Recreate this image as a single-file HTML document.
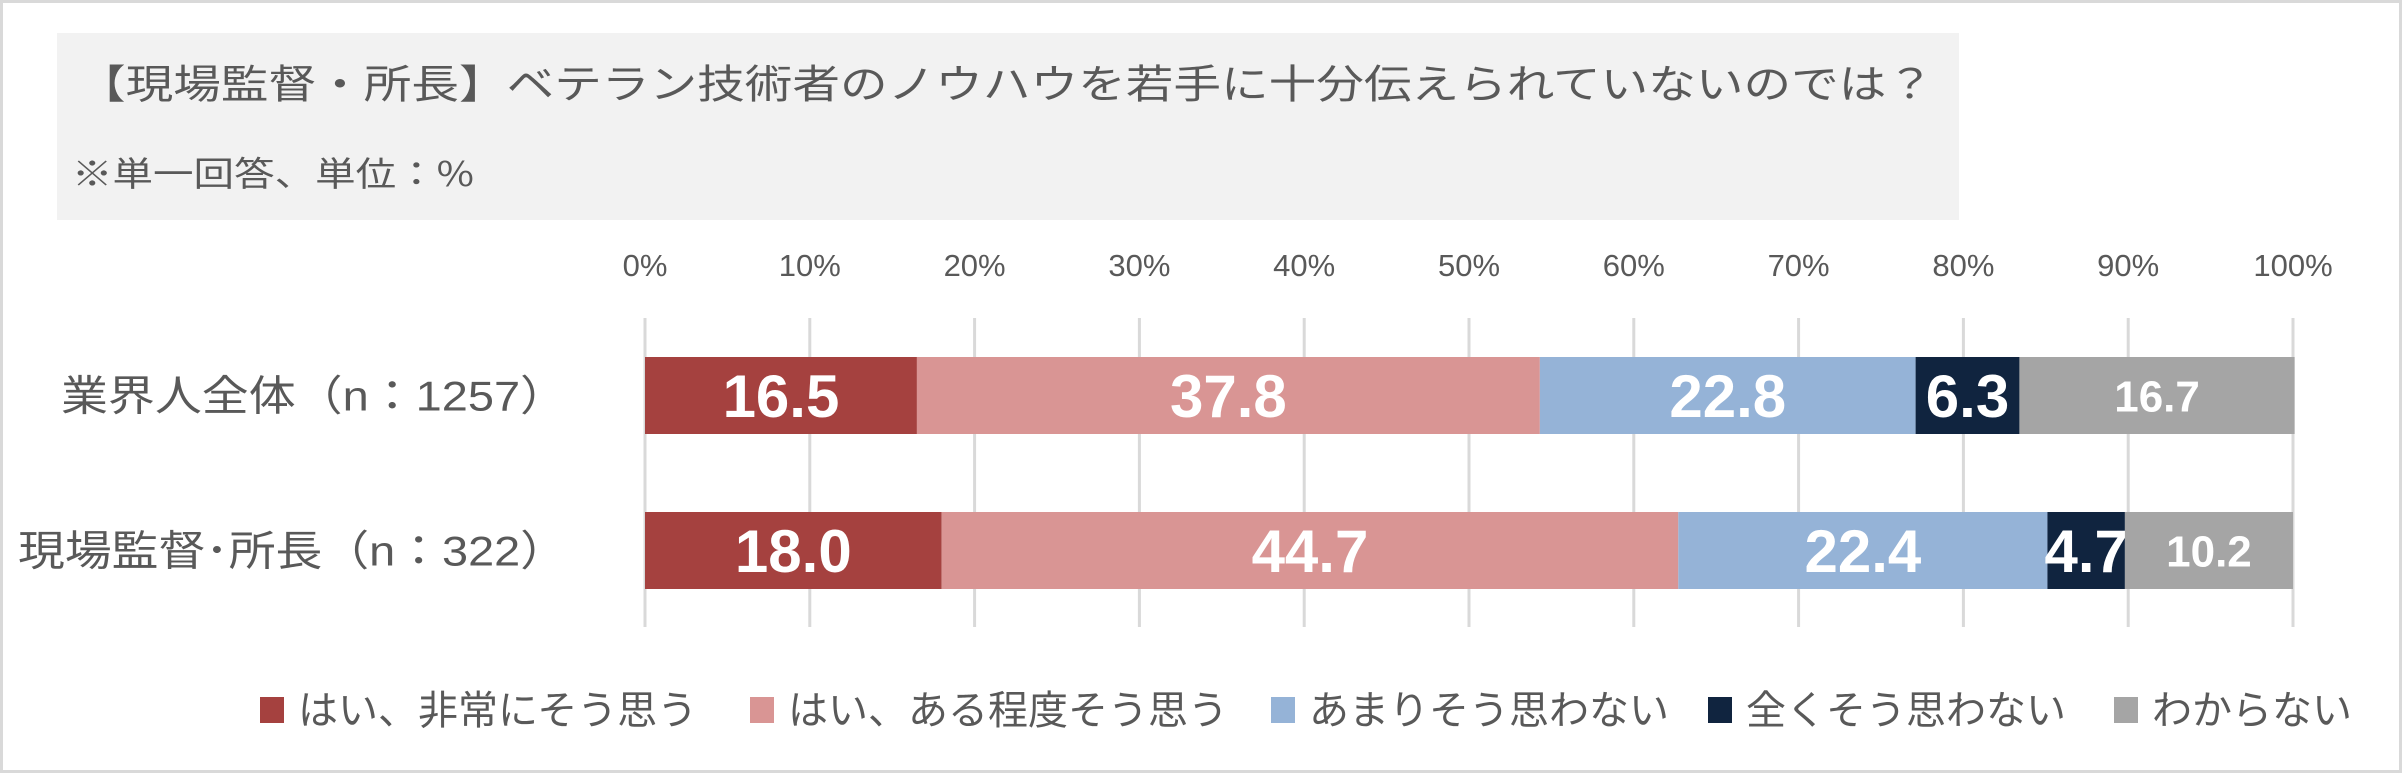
<!DOCTYPE html>
<html><head><meta charset="utf-8"><style>
html,body{margin:0;padding:0;background:#fff;}
svg{display:block;font-family:"Liberation Sans","Noto Sans CJK JP",sans-serif;}
</style></head><body>
<svg id="chart" width="2402" height="773" viewBox="0 0 2402 773">
<rect x="1.5" y="1.5" width="2399" height="770" fill="#fff" stroke="#d9d9d9" stroke-width="3"/>
<rect x="57" y="33" width="1902" height="187" fill="#f2f2f2"/>
<text x="78" y="98" font-size="40" fill="#595959" textLength="1856" lengthAdjust="spacingAndGlyphs" font-family="Noto Sans CJK JP, sans-serif">【現場監督・所長】ベテラン技術者のノウハウを若手に十分伝えられていないのでは？</text>
<text x="72" y="186" font-size="34" fill="#595959" textLength="402" lengthAdjust="spacingAndGlyphs" font-family="Noto Sans CJK JP, sans-serif">※単一回答、単位：%</text>
<g id="grid"></g><g id="bars"></g><g id="legend"></g>
</svg>
<script>
const categories = ["業界人全体（n：1257）", "現場監督･所長（n：322）"];
const seriesNames = ["はい、非常にそう思う", "はい、ある程度そう思う", "あまりそう思わない", "全くそう思わない", "わからない"];
const s1 = [16.5, 18.0];
const s2 = [37.8, 44.7];
const s3 = [22.8, 22.4];
const s4 = [6.3, 4.7];
const s5 = [16.7, 10.2];
const tickLabels = ["0%","10%","20%","30%","40%","50%","60%","70%","80%","90%","100%"];
const colors = ["#A5413F","#D99594","#95B3D7","#10243F","#A5A5A5"];
const series = [s1,s2,s3,s4,s5];
const NS="http://www.w3.org/2000/svg";
const x0=645, x1=2293, gTop=318, gBot=627;
const xs = v => x0 + (x1-x0)*v/100;
const barY=[357,512], barH=77;
const catWidths=[506,549];
const legendWidths=[390,430,380,310,190];
function mk(tag, attrs, parent){const e=document.createElementNS(NS,tag);for(const k in attrs)e.setAttribute(k,attrs[k]);parent.appendChild(e);return e;}
const grid=document.getElementById('grid');
tickLabels.forEach((t,i)=>{
  const x=xs(i*10);
  const l=mk('line',{x1:x,x2:x,y1:gTop,y2:gBot,stroke:'#d9d9d9','stroke-width':3},grid);
  
  
  const tx=mk('text',{x:x,y:276,'text-anchor':'middle','font-size':31,fill:'#595959'},grid);
  
  
  tx.textContent=t;
});
const bars=document.getElementById('bars');
categories.forEach((c,ci)=>{
  const cl=mk('text',{x:567-catWidths[ci],y:barY[ci]+barH/2+15,'font-size':42,fill:'#595959',textLength:catWidths[ci],lengthAdjust:'spacingAndGlyphs'},bars);
  
  
  cl.textContent=c;
  let cum=0;
  series.forEach((s,si)=>{
    const v=s[ci];
    const xa=xs(cum), xb=xs(cum+v);
    const r=mk('rect',{x:xa,y:barY[ci],width:xb-xa,height:barH,fill:colors[si]},bars);
    
    
    const fs = si===4?44:60;
    const t=mk('text',{x:(xa+xb)/2,y:barY[ci]+barH/2+fs*0.36,'text-anchor':'middle','font-size':fs,'font-weight':'bold',fill:'#fff'},bars);
    
    
    t.textContent=v.toFixed(1);
    cum+=v;
  });
});
const legend=document.getElementById('legend');
const lx=[260,750,1271,1708,2114];
seriesNames.forEach((n,i)=>{
  const r=mk('rect',{x:lx[i],y:697,width:24,height:26,fill:colors[i]},legend);
  
  
  const t=mk('text',{x:lx[i]+38,y:724,'font-size':40,fill:'#595959'},legend);
  
  
  t.textContent=n;
});
</script>
</body></html>
